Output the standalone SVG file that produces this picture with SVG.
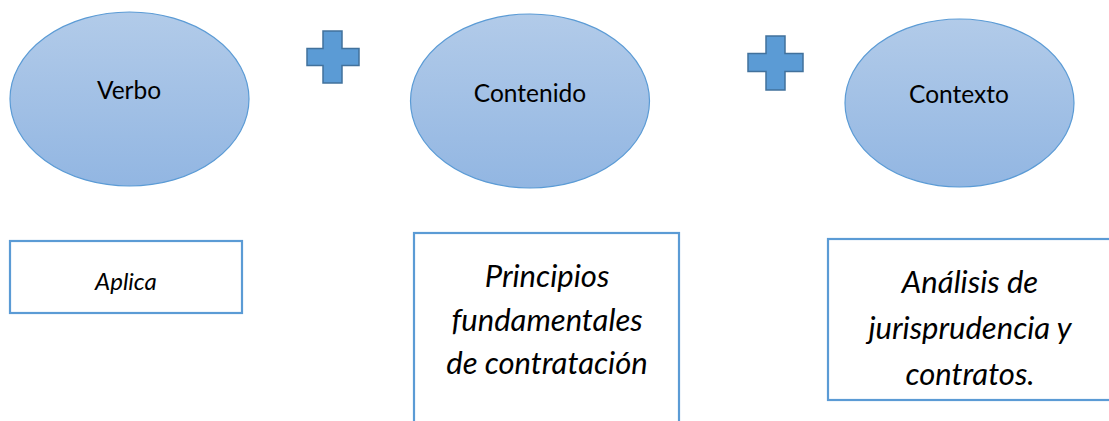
<svg xmlns="http://www.w3.org/2000/svg" width="1109" height="421" viewBox="0 0 1109 421">
<style>
.ell{fill:url(#g);stroke:#5b9bd5;stroke-width:1.2}
.plus{fill:#5b9bd5;stroke:#41719c;stroke-width:1.5}
.box{fill:#fff;stroke:#5b9bd5;stroke-width:2.2}
.t{font-family:Lato,"Open Sans","Liberation Sans",sans-serif;fill:#000;text-anchor:middle}
.e{font-size:24.5px}
.i{font-style:italic}
.s{font-size:24px}
.l{font-size:31px}
</style>
<defs>
<linearGradient id="g" x1="0" y1="0" x2="0" y2="1">
<stop offset="0" stop-color="#b2cbe9"/>
<stop offset="1" stop-color="#92b6e2"/>
</linearGradient>
</defs>
<rect width="1109" height="421" fill="#fff"/>
<g id="verbo"><ellipse class="ell" cx="129.5" cy="99" rx="119.5" ry="87"/><text class="t e" x="129" y="99">Verbo</text></g>
<g id="plus1"><path class="plus" d="M323,31H342V48.5H359V65.5H342V83H323V65.5H307V48.5H323Z"/></g>
<g id="contenido"><ellipse class="ell" cx="530" cy="101" rx="119.5" ry="87"/><text class="t e" x="530" y="102">Contenido</text></g>
<g id="plus2"><path class="plus" d="M766,36H785V53.5H803V71.5H785V90H766V71.5H748V53.5H766Z"/></g>
<g id="contexto"><ellipse class="ell" cx="959.5" cy="103" rx="114.5" ry="84"/><text class="t e" x="959" y="103">Contexto</text></g>
<g id="aplica"><rect class="box" x="10" y="241" width="232" height="72"/><text class="t i s" x="126" y="290">Aplica</text></g>
<g id="principios"><rect class="box" x="414" y="233" width="265" height="200"/>
<text class="t i l" x="547"><tspan x="547" y="287">Principios</tspan><tspan x="547" y="331">fundamentales</tspan><tspan x="547" y="374">de contratación</tspan></text></g>
<g id="analisis"><rect class="box" x="828" y="239" width="284" height="161"/>
<text class="t i l" x="970"><tspan x="970" y="293">Análisis de</tspan><tspan x="970" y="339">jurisprudencia y</tspan><tspan x="970" y="385">contratos.</tspan></text></g>
<g id="connectors"></g>
</svg>
